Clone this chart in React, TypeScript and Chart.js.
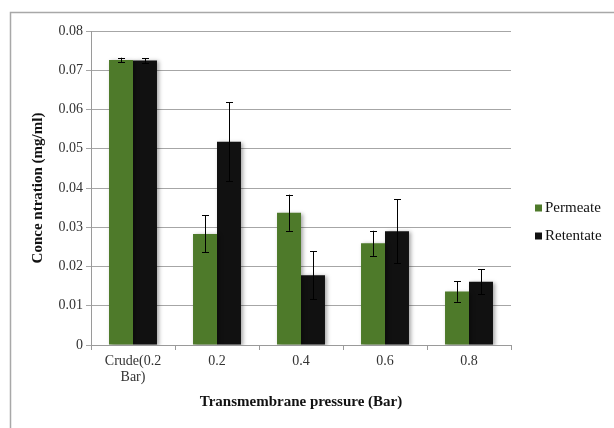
import React, { useEffect, useRef } from "react";
import { Chart, registerables } from "chart.js";

Chart.register(...registerables);

const categories: (string | string[])[] = [["Crude(0.2", "Bar)"], "0.2", "0.4", "0.6", "0.8"];
const permeate = [0.0726, 0.0283, 0.0337, 0.0259, 0.0136];
const permeateErr = [0.0006, 0.0047, 0.0046, 0.0032, 0.0026];
const retentate = [0.0725, 0.0518, 0.0178, 0.029, 0.0161];
const retentateErr = [0.0006, 0.0101, 0.0061, 0.0081, 0.0032];
const errors = [permeateErr, retentateErr];

const GREEN = "#4e7a2a";
const BLACK = "#111111";
const SERIF = '"Liberation Serif", serif';

const framePlugin = {
  id: "frame",
  beforeDraw(chart: any) {
    const ctx = chart.ctx;
    ctx.save();
    ctx.strokeStyle = "#a8a8a8";
    ctx.lineWidth = 1.5;
    ctx.beginPath();
    ctx.moveTo(10.5, chart.height);
    ctx.lineTo(10.5, 12.5);
    ctx.lineTo(chart.width, 12.5);
    ctx.stroke();
    ctx.restore();
  },
};

const shadowPlugin = {
  id: "barShadow",
  beforeDatasetDraw(chart: any) {
    const ctx = chart.ctx;
    ctx.save();
    ctx.shadowColor = "rgba(0,0,0,0.35)";
    ctx.shadowBlur = 4;
    ctx.shadowOffsetX = 2;
    ctx.shadowOffsetY = 1;
  },
  afterDatasetDraw(chart: any) {
    chart.ctx.restore();
  },
};

const errorBarPlugin = {
  id: "errorBars",
  afterDatasetsDraw(chart: any) {
    const ctx = chart.ctx;
    const y = chart.scales.y;
    ctx.save();
    ctx.strokeStyle = "#000";
    ctx.lineWidth = 1;
    chart.data.datasets.forEach((ds: any, di: number) => {
      const meta = chart.getDatasetMeta(di);
      meta.data.forEach((bar: any, i: number) => {
        const v = ds.data[i];
        const e = errors[di][i];
        const x = Math.round(bar.x) + 0.5;
        const top = y.getPixelForValue(v + e);
        const bot = y.getPixelForValue(v - e);
        ctx.beginPath();
        ctx.moveTo(x, top);
        ctx.lineTo(x, bot);
        ctx.moveTo(x - 3.5, Math.round(top) + 0.5);
        ctx.lineTo(x + 3.5, Math.round(top) + 0.5);
        ctx.moveTo(x - 3.5, Math.round(bot) + 0.5);
        ctx.lineTo(x + 3.5, Math.round(bot) + 0.5);
        ctx.stroke();
      });
    });
    ctx.restore();
  },
};

const legendPlugin = {
  id: "customLegend",
  afterDraw(chart: any) {
    const ctx = chart.ctx;
    ctx.save();
    ctx.font = `15px ${SERIF}`;
    ctx.textBaseline = "middle";
    ctx.textAlign = "left";
    const ys = [208, 236];
    chart.data.datasets.forEach((ds: any, i: number) => {
      ctx.fillStyle = ds.backgroundColor;
      ctx.fillRect(535, ys[i] - 3.5, 7, 7);
      ctx.fillStyle = "#111";
      ctx.fillText(ds.label, 545, ys[i]);
    });
    ctx.restore();
  },
};

export default function App() {
  const ref = useRef<HTMLCanvasElement>(null);
  useEffect(() => {
    if (!ref.current) return;
    const chart = new Chart(ref.current, {
      type: "bar",
      data: {
        labels: categories,
        datasets: [
          { label: "Permeate", data: permeate, backgroundColor: GREEN, categoryPercentage: 0.571, barPercentage: 1 },
          { label: "Retentate", data: retentate, backgroundColor: BLACK, categoryPercentage: 0.571, barPercentage: 1 },
        ],
      },
      options: {
        animation: false,
        responsive: false,
        devicePixelRatio: 1,
        layout: { padding: { left: 0, right: 103, top: 31, bottom: 17 } },
        plugins: { legend: { display: false }, tooltip: { enabled: false } },
        scales: {
          x: {
            grid: { display: true, drawOnChartArea: false, drawTicks: true, tickLength: 5, color: "#9a9a9a", offset: true },
            border: { color: "#9a9a9a", width: 1 },
            ticks: { color: "#333", font: { family: SERIF, size: 14, lineHeight: 1.1 }, maxRotation: 0, autoSkip: false, padding: 4 },
            title: { display: true, text: "Transmembrane pressure (Bar)", color: "#111", font: { family: SERIF, size: 15, weight: "bold" }, padding: { top: 8, bottom: 0 } },
            afterFit(scale: any) { scale.height = 428 - 345 - 17; },
          },
          y: {
            min: 0,
            max: 0.08,
            grid: { color: "#a6a6a6", lineWidth: 1, tickLength: 5, drawTicks: true },
            border: { color: "#9a9a9a", width: 1 },
            ticks: { stepSize: 0.01, color: "#333", font: { family: SERIF, size: 14 }, padding: 3, callback: (v: any) => String(Math.round(v * 100) / 100) },
            title: { display: true, text: "Conce ntration (mg/ml)", color: "#111", font: { family: SERIF, size: 15, weight: "bold" }, padding: { top: 29, bottom: 0 } },
            afterFit(scale: any) { scale.width = 91; },
          },
        },
      },
      plugins: [framePlugin, shadowPlugin, errorBarPlugin, legendPlugin],
    } as any);
    return () => chart.destroy();
  }, []);
  return (
    <div style={{ position: "fixed", left: 0, top: 0, width: 614, height: 428, background: "#fff" }}>
      <canvas ref={ref} width={614} height={428} style={{ width: 614, height: 428, display: "block" }} />
    </div>
  );
}
